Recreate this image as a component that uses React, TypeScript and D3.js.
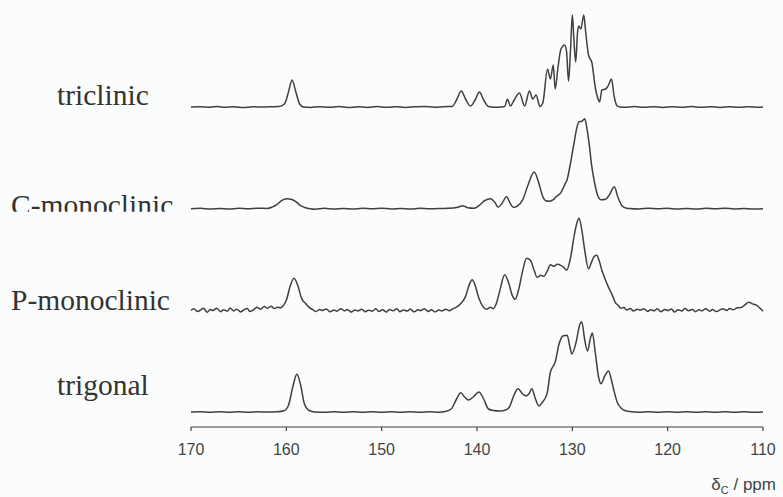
import * as d3 from "d3";

// chemical shift axis (ppm), reversed as usual for NMR
const ppmDomain: [number, number] = [170, 110];
const tickValues = [170, 160, 150, 140, 130, 120, 110];

// phase names, top to bottom
const phases = ["triclinic", "C-monoclinic", "P-monoclinic", "trigonal"];

// [ppm, intensity]
const triclinic: [number, number][] = [
  [170, 0], [169, 0.3], [168, -0.2], [167.2, 0.5], [166.5, -0.3], [165.5, 0.2], [164.5, -0.5], [163.5, 0.2],
  [162.5, 0], [161.5, 0.3], [160.8, 0.5], [160.2, 3], [159.8, 14], [159.4, 27], [159.0, 15], [158.6, 3],
  [158.2, 0], [157.5, -0.4], [156.5, 0.3], [155.5, -0.3], [154.5, 0.4], [153.5, -0.5], [152.5, 0.2],
  [151.5, -0.4], [150.5, 0.5], [149.5, -0.3], [148.5, 0.3], [147.5, -0.5], [146.5, 0.2], [145.5, 0.6],
  [144.5, -0.2], [143.5, 0.3], [142.6, 0.5], [142.1, 8], [141.65, 16], [141.2, 8], [140.7, 1], [140.2, 7],
  [139.75, 15], [139.3, 7], [138.8, 0.5], [138.2, -0.3], [137.5, 0], [137.1, 0.5], [136.8, 7.7], [136.5, 1],
  [136.1, 7], [135.55, 14], [135.0, 1], [134.5, 16], [134.15, 8], [133.8, 12], [133.4, 0.5], [133.1, 4],
  [132.6, 37.7], [132.3, 28], [132.0, 42], [131.8, 18], [131.5, 40], [131.2, 57.7], [130.8, 62], [130.6, 55],
  [130.4, 26], [130.2, 55], [130.0, 92], [129.85, 70], [129.65, 45], [129.45, 75], [129.33, 81], [129.1, 78],
  [128.8, 92], [128.6, 75], [128.3, 52], [127.94, 44], [127.6, 20], [127.3, 8], [127.14, 5], [126.9, 17],
  [126.5, 18], [126.2, 22], [125.9, 28], [125.6, 10], [125.3, 1], [125.0, 0], [124.5, -0.3], [123.5, 0.4],
  [122.5, -0.2], [121.5, 0.3], [120.5, -0.4], [119.5, 0.2], [118.5, -0.3], [117.5, 0.4], [116.5, -0.2],
  [115.5, 0.3], [114.5, -0.4], [113.5, 0.2], [112.5, -0.2], [111.5, 0.3], [110.5, -0.3], [110, 0],
];

const cMonoclinic: [number, number][] = [
  [170, 0], [169, 0.3], [168, -0.3], [167, 0.2], [166, -0.4], [165, 0.3], [164, -0.2], [163, 0.4], [162, 0.2],
  [161.5, 1.5], [161, 4], [160.5, 8], [160, 10], [159.5, 9.5], [159, 7], [158.5, 3], [158, 1], [157.5, 0],
  [157, -0.5], [156, 0.3], [155, -0.3], [154, 0.2], [153, -0.4], [152, 0.3], [151, -0.2], [150, 0.4],
  [149, -0.3], [148, 0.2], [147, -0.4], [146, 0.3], [145, -0.2], [144, 0.2], [143, 0.3], [142, 1.5],
  [141.5, 3], [141, 1], [140.3, 0.5], [139.8, 3], [139.2, 8], [138.6, 10], [138.1, 6], [137.8, 1.5],
  [137.4, 5], [136.9, 12], [136.5, 5], [136.2, 1.3], [135.7, 3], [135.2, 9], [134.6, 25], [134.0, 36.6],
  [133.5, 25], [133.1, 12], [132.8, 8], [132.4, 7.5], [132.0, 9], [131.7, 12], [131.2, 16], [130.8, 24],
  [130.55, 29], [130.2, 45], [129.85, 64], [129.5, 82], [129.3, 87], [129.0, 87.5], [128.7, 90], [128.5, 82],
  [128.2, 62], [128.0, 45], [127.75, 30], [127.4, 15], [127.0, 9], [126.5, 9.5], [126.1, 14], [125.6, 22],
  [125.2, 11], [124.8, 3], [124.4, 0.7], [124, 0.2], [123, -0.3], [122, 0.4], [121, -0.2], [120, 0.3],
  [119, -0.4], [118, 0.2], [117, -0.3], [116, 0.3], [115, -0.2], [114, 0.4], [113, -0.3], [112, 0.2],
  [111, -0.3], [110, 0],
];

const pMonoclinic: [number, number][] = [
  [170, 0], [169.7, 1.5], [169.3, -1.2], [169.0, 0.4], [168.7, 2], [168.3, -1.8], [168, 0.8], [167.7, -0.2],
  [167.3, 2.2], [166.9, -1.4], [166.6, 0.6], [166.2, -0.8], [165.9, 2.4], [165.5, -0.6], [165.2, 1.2],
  [164.8, -1.6], [164.5, 0.2], [164.1, 1.8], [163.8, -1.2], [163.4, 0.8], [163.1, 3.2], [162.7, 1.2],
  [162.3, 3.8], [162.0, 2], [161.6, 4.2], [161.3, 1.8], [160.9, 3.2], [160.6, 2.4], [160.3, 5], [160, 10],
  [159.6, 24], [159.2, 32], [158.8, 25], [158.4, 12], [158, 7], [157.6, 3], [157.2, 0.5], [156.9, -1.2],
  [156.5, 0.8], [156.2, -0.2], [155.8, 1.4], [155.4, -1.5], [155.0, 0.3], [154.7, -0.8], [154.3, 1.6],
  [153.9, -0.5], [153.6, 0.9], [153.2, -1.7], [152.8, 0.4], [152.5, -0.6], [152.1, 1.2], [151.7, -1.4],
  [151.4, 0.2], [151.0, -0.9], [150.6, 1.5], [150.3, -1.1], [149.9, 0.6], [149.5, -1.6], [149.2, 0.9],
  [148.8, -0.4], [148.4, 1.7], [148.1, -1.3], [147.7, 0.3], [147.3, -0.7], [147.0, 1.3], [146.6, -1.5],
  [146.2, 0.5], [145.9, -0.3], [145.5, 1.6], [145.1, -1.2], [144.8, 0.7], [144.4, -1.6], [144.0, 0.4],
  [143.7, -0.6], [143.3, 1.2], [142.9, -0.4], [142.6, 1.2], [142.2, 3], [141.9, 5], [141.5, 9],
  [141.2, 14], [140.8, 26], [140.5, 30.6], [140.2, 25], [139.8, 12], [139.4, 4], [139, 1], [138.6, 3],
  [138.3, 1.7], [138, 6], [137.6, 20], [137.1, 35.6], [136.7, 28], [136.3, 15], [136.0, 11], [135.6, 22],
  [135.2, 40], [134.8, 52], [134.4, 50], [134.0, 40], [133.7, 33], [133.3, 35], [133.0, 34], [132.6, 40],
  [132.3, 45.6], [131.9, 44], [131.6, 46], [131.2, 45], [130.9, 43], [130.6, 40], [130.2, 52], [129.8, 75],
  [129.5, 88], [129.3, 92], [129.0, 80], [128.7, 60], [128.3, 41.6], [128.0, 48], [127.7, 54], [127.45, 55],
  [127.2, 50], [126.9, 40], [126.6, 32], [126.2, 23], [125.8, 15], [125.5, 8], [125.2, 5], [124.9, 2],
  [124.6, 2.8], [124.3, 0.4], [123.9, 1.9], [123.6, -0.7], [123.2, 1.1], [122.9, 0.2], [122.5, 1.7],
  [122.1, -1.2], [121.8, 0.6], [121.4, -0.4], [121.1, 1.5], [120.7, -1.3], [120.3, 0.8], [120.0, -0.2],
  [119.6, 1.3], [119.3, -1.6], [118.9, 0.5], [118.5, -0.7], [118.2, 1.8], [117.8, -0.3], [117.4, 0.9],
  [117.1, -1.4], [116.7, 0.6], [116.4, -0.5], [116.0, 1.6], [115.6, -0.9], [115.3, 0.9], [114.9, -1.2],
  [114.5, 0.4], [114.2, 1.6], [113.8, -0.2], [113.5, 1.8], [113.1, 0.6], [112.7, 2.6], [112.3, 2.8],
  [111.9, 5.5], [111.5, 8], [111.1, 6.5], [110.7, 5.2], [110.3, 2], [110, -1],
];

const trigonal: [number, number][] = [
  [170, 0], [169, 0.3], [168, -0.3], [167, 0.2], [166, -0.2], [165, 0.3], [164, -0.3], [163, 0.2], [162, 0],
  [161, 0.3], [160.3, 1], [159.8, 6], [159.3, 26], [158.9, 37.7], [158.5, 27], [158.1, 8], [157.6, 1.5],
  [157, 0], [156, -0.3], [155, 0.2], [154, -0.3], [153, 0.2], [152, -0.2], [151, 0.3], [150, -0.2],
  [149, 0.2], [148, -0.3], [147, 0.2], [146, -0.2], [145, 0.3], [144, -0.2], [143.3, 0.5], [142.7, 3],
  [142.2, 12], [141.7, 19.3], [141.3, 15], [140.9, 12], [140.4, 15], [139.8, 20], [139.3, 13], [138.8, 3],
  [138.3, 1.5], [137.6, 1], [137.0, 2], [136.6, 5], [136.2, 15], [135.7, 23.3], [135.2, 18], [134.85, 16],
  [134.5, 19], [134.25, 23.3], [133.9, 14], [133.5, 6], [133.2, 9], [132.65, 18.4], [132.3, 40], [132.0, 46],
  [131.8, 50], [131.4, 67.7], [131.0, 76], [130.55, 76.7], [130.25, 65], [130.05, 58], [129.6, 70],
  [129.2, 88], [129.0, 90], [128.7, 72], [128.4, 61], [128.1, 74], [127.9, 79], [127.6, 60], [127.25, 35],
  [127.0, 28.3], [126.6, 36], [126.2, 41], [125.9, 32], [125.6, 20], [125.3, 10], [124.9, 4], [124.5, 1.5],
  [124, 0.5], [123, -0.3], [122, 0.3], [121, -0.2], [120, 0.3], [119, -0.3], [118, 0.2], [117, -0.2],
  [116, 0.3], [115, -0.3], [114, 0.2], [113, -0.2], [112, 0.3], [111, -0.2], [110, 0],
];

const spectra = [triclinic, cMonoclinic, pMonoclinic, trigonal];

const W = 783;
const H = 497;
const ink = "#3f3f3f";

// label placement (left x of text, baseline offset from spectrum baseline)
const labelX = [57, 11, 11, 57];
const labelDy = [-2, 6, 0, -17];

export default function App() {
  const x = d3.scaleLinear().domain(ppmDomain).range([191, 763]);
  const row = d3.scalePoint<string>().domain(phases).range([107, 412]);
  const amp = d3.scaleLinear().domain([0, 100]).range([0, 100]);
  const axisY = 427;

  const lineFor = (base: number) =>
    d3
      .line<[number, number]>()
      .x((d) => x(d[0]))
      .y((d) => base - amp(d[1]))
      .curve(d3.curveMonotoneX);

  return (
    <svg
      width={W}
      height={H}
      style={{ position: "absolute", left: 0, top: 0, background: "#fbfcfc" }}
    >
      <defs>
        <clipPath id="cmono-clip">
          <rect x={0} y={0} width={190} height={(row("C-monoclinic") || 0) + 3} />
        </clipPath>
      </defs>
      <rect width={W} height={H} fill="#fbfcfc" />

      {phases.map((name, i) => {
        const base = row(name) || 0;
        return (
          <g key={name}>
            <path d={lineFor(base)(spectra[i]) || ""} fill="none" stroke={ink} strokeWidth={1.5} strokeLinejoin="round" />
            <text
              x={labelX[i]}
              y={base + labelDy[i]}
              fontFamily="'Liberation Serif', 'Times New Roman', serif"
              fontSize={29.5}
              fill="#333"
              clipPath={name === "C-monoclinic" ? "url(#cmono-clip)" : undefined}
            >
              {name}
            </text>
          </g>
        );
      })}

      {/* ppm axis */}
      <line x1={x(170)} x2={x(110)} y1={axisY} y2={axisY} stroke={ink} strokeWidth={1.2} />
      {tickValues.map((t) => (
        <g key={t}>
          <line x1={x(t)} x2={x(t)} y1={axisY} y2={axisY + 4} stroke={ink} strokeWidth={1.2} />
          <text
            x={x(t)}
            y={axisY + 28}
            textAnchor="middle"
            fontFamily="'Liberation Sans', Arial, sans-serif"
            fontSize={16}
            fill="#444"
          >
            {t}
          </text>
        </g>
      ))}
      <text
        x={776}
        y={490}
        textAnchor="end"
        fontFamily="'Liberation Sans', Arial, sans-serif"
        fontSize={17}
        fill="#444"
      >
        δ
        <tspan fontSize={11} dy={4}>C</tspan>
        <tspan dy={-4}> / ppm</tspan>
      </text>
    </svg>
  );
}
